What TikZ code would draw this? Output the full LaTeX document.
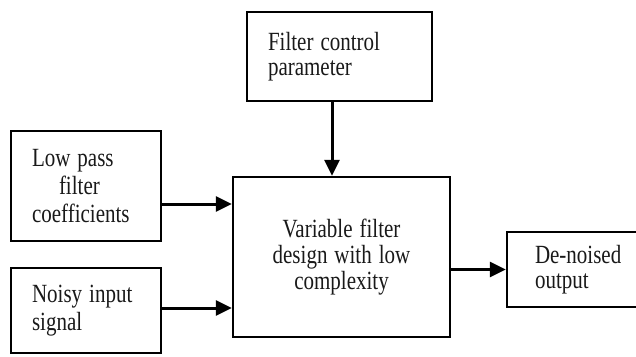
\documentclass[tikz,border=0pt]{standalone}
\usepackage{fontspec}
\usepackage{graphicx}
\setmainfont{Liberation Serif}
\usetikzlibrary{arrows.meta}

% text lines are set slightly taller than wide
\newcommand{\tl}[1]{\scalebox{1}[1.25]{#1}}

\tikzset{
  block/.style={draw=black, line width=2.4pt, rectangle, inner ysep=0pt,
    font=\fontsize{21}{26}\selectfont, text=black!90},
  flow/.style={line width=3pt, -{Triangle[length=16pt,width=15pt]}}
}

\begin{document}
\begin{tikzpicture}[x=1pt,y=-1pt]
  \useasboundingbox (0,0) rectangle (636,356);

  % input and control blocks
  \node[block, minimum width=185pt, minimum height=89pt, inner xsep=21pt,
        text width=143pt, align=left,
        font=\fontsize{21}{25}\selectfont] (fcp) at (339.5,56.5)
        {\tl{Filter control}\\\tl{parameter}};
  \node[block, minimum width=150pt, minimum height=110pt, inner xsep=21pt,
        text width=108pt, align=left,
        font=\fontsize{21}{28}\selectfont] (lpf) at (86,186)
        {\tl{Low pass}\\\hspace*{27pt}\tl{filter}\\\tl{coefficients}};
  \node[block, minimum width=150pt, minimum height=85pt, inner xsep=21pt,
        text width=108pt, align=left,
        font=\fontsize{21}{28}\selectfont] (noisy) at (86,310.5)
        {\tl{Noisy input}\\\tl{signal}};

  % central processing block
  \node[block, minimum width=217pt, minimum height=160pt, inner xsep=10pt,
        text width=197pt, align=center] (main) at (341.5,257)
        {\tl{Variable filter}\\\tl{design with low}\\\tl{complexity}};

  % output block, running off the right edge
  \node[block, minimum width=131pt, minimum height=75pt, inner xsep=15.5pt,
        text width=100pt, align=left,
        font=\fontsize{21}{25}\selectfont] (out) at (572.5,269.5)
        {\hspace*{12.5pt}\tl{De-noised}\\\hspace*{12.5pt}\tl{output}};

  % connectors
  \draw[flow] ([xshift=-7.5pt]fcp.south) -- ([xshift=-7.5pt]fcp.south |- main.north);
  \draw[flow] ([yshift=-18pt]lpf.east) -- ([yshift=-18pt]lpf.east -| main.west);
  \draw[flow] ([yshift=2.5pt]noisy.east) -- ([yshift=2.5pt]noisy.east -| main.west);
  \draw[flow] (out.west -| main.east) -- (out.west);
\end{tikzpicture}
\end{document}
